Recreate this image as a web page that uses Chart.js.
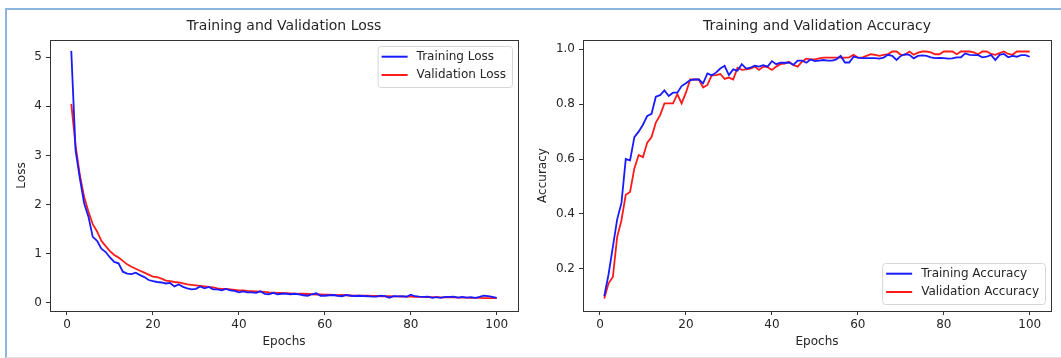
<!DOCTYPE html>
<html>
<head>
<meta charset="utf-8">
<script src="https://cdn.jsdelivr.net/npm/chart.js@4"></script>
<style>
    body { margin: 0; background: #fff; width: 1061px; height: 358px; overflow: hidden; position: relative; }
    .frame { position: absolute; left: 5px; top: 8px; width: 1100px; height: 347px;
             border-top: 2px solid #8eb4e2; border-left: 2px solid #8eb4e2; border-bottom: 1px solid #e4e4e4; }
    canvas { position: absolute; top: 0; }
    #lossChart { left: 0; }
    #accChart { left: 530px; }
</style>
</head>
<body>
<div class="frame"></div>
<canvas id="lossChart" width="530" height="358"></canvas>
<canvas id="accChart" width="531" height="358"></canvas>

<script>
const epochs = Array.from({length: 100}, (_, i) => i + 1);

const trainLoss = [
    5.13, 3.10, 2.53, 2.02, 1.75, 1.34, 1.26, 1.10, 1.03, 0.92,
    0.83, 0.80, 0.63, 0.59, 0.58, 0.61, 0.56, 0.52, 0.46, 0.44,
    0.42, 0.41, 0.39, 0.40, 0.33, 0.37, 0.32, 0.29, 0.27, 0.28,
    0.33, 0.29, 0.32, 0.27, 0.27, 0.25, 0.28, 0.25, 0.24, 0.21,
    0.23, 0.21, 0.21, 0.20, 0.23, 0.18, 0.17, 0.20, 0.17, 0.18,
    0.18, 0.17, 0.18, 0.17, 0.15, 0.14, 0.17, 0.19, 0.14, 0.14,
    0.15, 0.155, 0.14, 0.13, 0.155, 0.14, 0.135, 0.14, 0.135, 0.13,
    0.12, 0.12, 0.14, 0.13, 0.10, 0.13, 0.125, 0.13, 0.12, 0.16,
    0.13, 0.12, 0.115, 0.12, 0.095, 0.11, 0.095, 0.115, 0.115, 0.12,
    0.10, 0.115, 0.10, 0.11, 0.095, 0.115, 0.14, 0.13, 0.115, 0.095
];
const valLoss = [
    4.05, 3.20, 2.60, 2.15, 1.85, 1.60, 1.45, 1.26, 1.15, 1.05,
    0.97, 0.92, 0.85, 0.78, 0.73, 0.69, 0.65, 0.61, 0.57, 0.53,
    0.52, 0.49, 0.45, 0.44, 0.42, 0.41, 0.39, 0.37, 0.36, 0.35,
    0.34, 0.33, 0.32, 0.31, 0.29, 0.28, 0.28, 0.27, 0.26, 0.25,
    0.25, 0.24, 0.235, 0.23, 0.225, 0.22, 0.21, 0.205, 0.20, 0.20,
    0.195, 0.19, 0.185, 0.18, 0.18, 0.175, 0.17, 0.165, 0.165, 0.16,
    0.16, 0.155, 0.15, 0.155, 0.15, 0.145, 0.14, 0.14, 0.14, 0.14,
    0.135, 0.135, 0.13, 0.13, 0.13, 0.125, 0.125, 0.12, 0.12, 0.12,
    0.115, 0.115, 0.115, 0.11, 0.11, 0.11, 0.105, 0.105, 0.105, 0.105,
    0.10, 0.10, 0.10, 0.095, 0.095, 0.095, 0.09, 0.09, 0.09, 0.09
];
const trainAcc = [
    0.10, 0.18, 0.28, 0.38, 0.44, 0.60, 0.595, 0.68, 0.70, 0.725,
    0.757, 0.765, 0.827, 0.833, 0.85, 0.83, 0.842, 0.842, 0.866, 0.876,
    0.888, 0.89, 0.89, 0.876, 0.912, 0.905, 0.915, 0.93, 0.94, 0.906,
    0.927, 0.922, 0.946, 0.93, 0.933, 0.94, 0.937, 0.942, 0.937, 0.957,
    0.946, 0.951, 0.951, 0.952, 0.943, 0.959, 0.959, 0.951, 0.963, 0.957,
    0.959, 0.961, 0.959, 0.959, 0.963, 0.976, 0.952, 0.952, 0.973, 0.97,
    0.968, 0.968, 0.968, 0.968, 0.966, 0.97, 0.98, 0.976, 0.961, 0.976,
    0.982, 0.98, 0.967, 0.976, 0.978, 0.976, 0.971, 0.968, 0.969, 0.968,
    0.966, 0.967, 0.971, 0.971, 0.985, 0.98, 0.979, 0.979, 0.971, 0.973,
    0.98, 0.961, 0.98, 0.983, 0.971, 0.976, 0.973, 0.979, 0.979, 0.973
];
const valAcc = [
    0.092, 0.147, 0.17, 0.316, 0.377, 0.47, 0.48, 0.566, 0.615, 0.607,
    0.66, 0.68, 0.733, 0.76, 0.803, 0.803, 0.803, 0.837, 0.803, 0.842,
    0.89, 0.89, 0.89, 0.861, 0.87, 0.905, 0.906, 0.91, 0.892, 0.897,
    0.89, 0.933, 0.925, 0.927, 0.93, 0.937, 0.925, 0.937, 0.935, 0.925,
    0.937, 0.946, 0.948, 0.955, 0.943, 0.937, 0.955, 0.966, 0.963, 0.963,
    0.967, 0.97, 0.97, 0.97, 0.97, 0.97, 0.97, 0.971, 0.98, 0.97,
    0.97, 0.976, 0.982, 0.98, 0.976, 0.98, 0.982, 0.992, 0.992, 0.98,
    0.98, 0.992, 0.98, 0.988, 0.992, 0.992, 0.989, 0.982, 0.982, 0.992,
    0.992, 0.992, 0.982, 0.992, 0.992, 0.992, 0.989, 0.982, 0.992, 0.992,
    0.983, 0.98, 0.986, 0.992, 0.983, 0.98, 0.992, 0.992, 0.992, 0.992
];

const xTicks = [0, 20, 40, 60, 80, 100];
const lossTicks = [0, 1, 2, 3, 4, 5];
const accTicks = [0.2, 0.4, 0.6, 0.8, 1.0];

const FONT = "'DejaVu Sans', sans-serif";
const INK = "#262626";

// frame around the plot area (matplotlib spines)
const boxPlugin = {
    id: "box",
    afterDatasetsDraw(chart) {
        const {ctx, chartArea: a} = chart;
        ctx.save();
        ctx.strokeStyle = "#333";
        ctx.lineWidth = 1;
        ctx.strokeRect(Math.round(a.left) + 0.5, Math.round(a.top) + 0.5,
            Math.round(a.right - a.left), Math.round(a.bottom - a.top));
        ctx.restore();
    }
};

// title centered on the plot area + legend box inside it
const decoPlugin = {
    id: "deco",
    afterDraw(chart, args, opts) {
        const {ctx, chartArea: a} = chart;
        ctx.save();
        ctx.fillStyle = INK;
        ctx.font = "14px " + FONT;
        ctx.textAlign = "center";
        ctx.textBaseline = "middle";
        ctx.fillText(opts.title, (a.left + a.right) / 2, 26.5);

        ctx.font = "12px " + FONT;
        const sets = chart.data.datasets;
        let tw = 0;
        sets.forEach(ds => { tw = Math.max(tw, ctx.measureText(ds.label).width); });
        const w = 4 + 26 + 9 + tw + 6;
        const h = 41;
        const x = a.right - 6 - w;
        const y = opts.where === "upper" ? a.top + 6 : a.bottom - 7 - h;

        ctx.beginPath();
        ctx.roundRect(x + 0.5, y + 0.5, w, h, 3);
        ctx.fillStyle = "rgba(255,255,255,0.8)";
        ctx.fill();
        ctx.strokeStyle = "#d6d6d6";
        ctx.lineWidth = 1;
        ctx.stroke();

        sets.forEach((ds, i) => {
            const cy = y + 10.7 + i * 18.3;
            ctx.beginPath();
            ctx.moveTo(x + 4, cy);
            ctx.lineTo(x + 30, cy);
            ctx.strokeStyle = ds.borderColor;
            ctx.lineWidth = 2;
            ctx.stroke();
            ctx.fillStyle = INK;
            ctx.textAlign = "left";
            ctx.fillText(ds.label, x + 39, cy);
        });
        ctx.restore();
    }
};

function makeChart(id, cfg) {
    const font = {family: FONT, size: 12};
    return new Chart(document.getElementById(id), {
        type: "line",
        data: {
            labels: epochs,
            datasets: [
                {label: cfg.labels[0], data: cfg.series[0], borderColor: "#1a1aff", borderWidth: 1.8, pointRadius: 0, tension: 0, fill: false},
                {label: cfg.labels[1], data: cfg.series[1], borderColor: "#ff1a1a", borderWidth: 1.8, pointRadius: 0, tension: 0, fill: false}
            ]
        },
        options: {
            responsive: false,
            animation: false,
            events: [],
            layout: {padding: {left: 0, top: 40, right: cfg.padRight, bottom: 0}},
            plugins: {
                legend: {display: false},
                tooltip: {enabled: false},
                deco: {title: cfg.title, where: cfg.legendAt}
            },
            scales: {
                x: {
                    type: "linear",
                    min: -3.95,
                    max: 104.95,
                    afterBuildTicks: s => { s.ticks = xTicks.map(v => ({value: v})); },
                    afterFit: s => { s.height = 47; },
                    grid: {drawOnChartArea: false, drawTicks: true, tickLength: 4, color: "#333"},
                    border: {color: "#333"},
                    ticks: {font, color: INK, padding: 3, maxRotation: 0, autoSkip: false},
                    title: {display: true, text: "Epochs", font, color: INK, padding: {top: 0, bottom: 9}}
                },
                y: {
                    type: "linear",
                    min: cfg.yMin,
                    max: cfg.yMax,
                    afterBuildTicks: s => { s.ticks = cfg.yTicks.map(v => ({value: v})); },
                    afterFit: s => { s.width = cfg.yWidth; },
                    grid: {drawOnChartArea: false, drawTicks: true, tickLength: 4, color: "#333"},
                    border: {color: "#333"},
                    ticks: {font, color: INK, padding: 4, callback: cfg.fmt},
                    title: {display: true, text: cfg.yTitle, font, color: INK, padding: {top: cfg.yTitlePad, bottom: 0}}
                }
            }
        },
        plugins: [boxPlugin, decoPlugin]
    });
}

makeChart("lossChart", {
    title: "Training and Validation Loss",
    labels: ["Training Loss", "Validation Loss"],
    series: [trainLoss, valLoss],
    yMin: -0.171, yMax: 5.351,
    yTicks: lossTicks,
    fmt: v => String(v),
    yTitle: "Loss",
    yWidth: 50, yTitlePad: 15, padRight: 12,
    legendAt: "upper"
});

makeChart("accChart", {
    title: "Training and Validation Accuracy",
    labels: ["Training Accuracy", "Validation Accuracy"],
    series: [trainAcc, valAcc],
    yMin: 0.046, yMax: 1.034,
    yTicks: accTicks,
    fmt: v => v.toFixed(1),
    yTitle: "Accuracy",
    yWidth: 53, yTitlePad: 6, padRight: 10,
    legendAt: "lower"
});
</script>
</body>
</html>
